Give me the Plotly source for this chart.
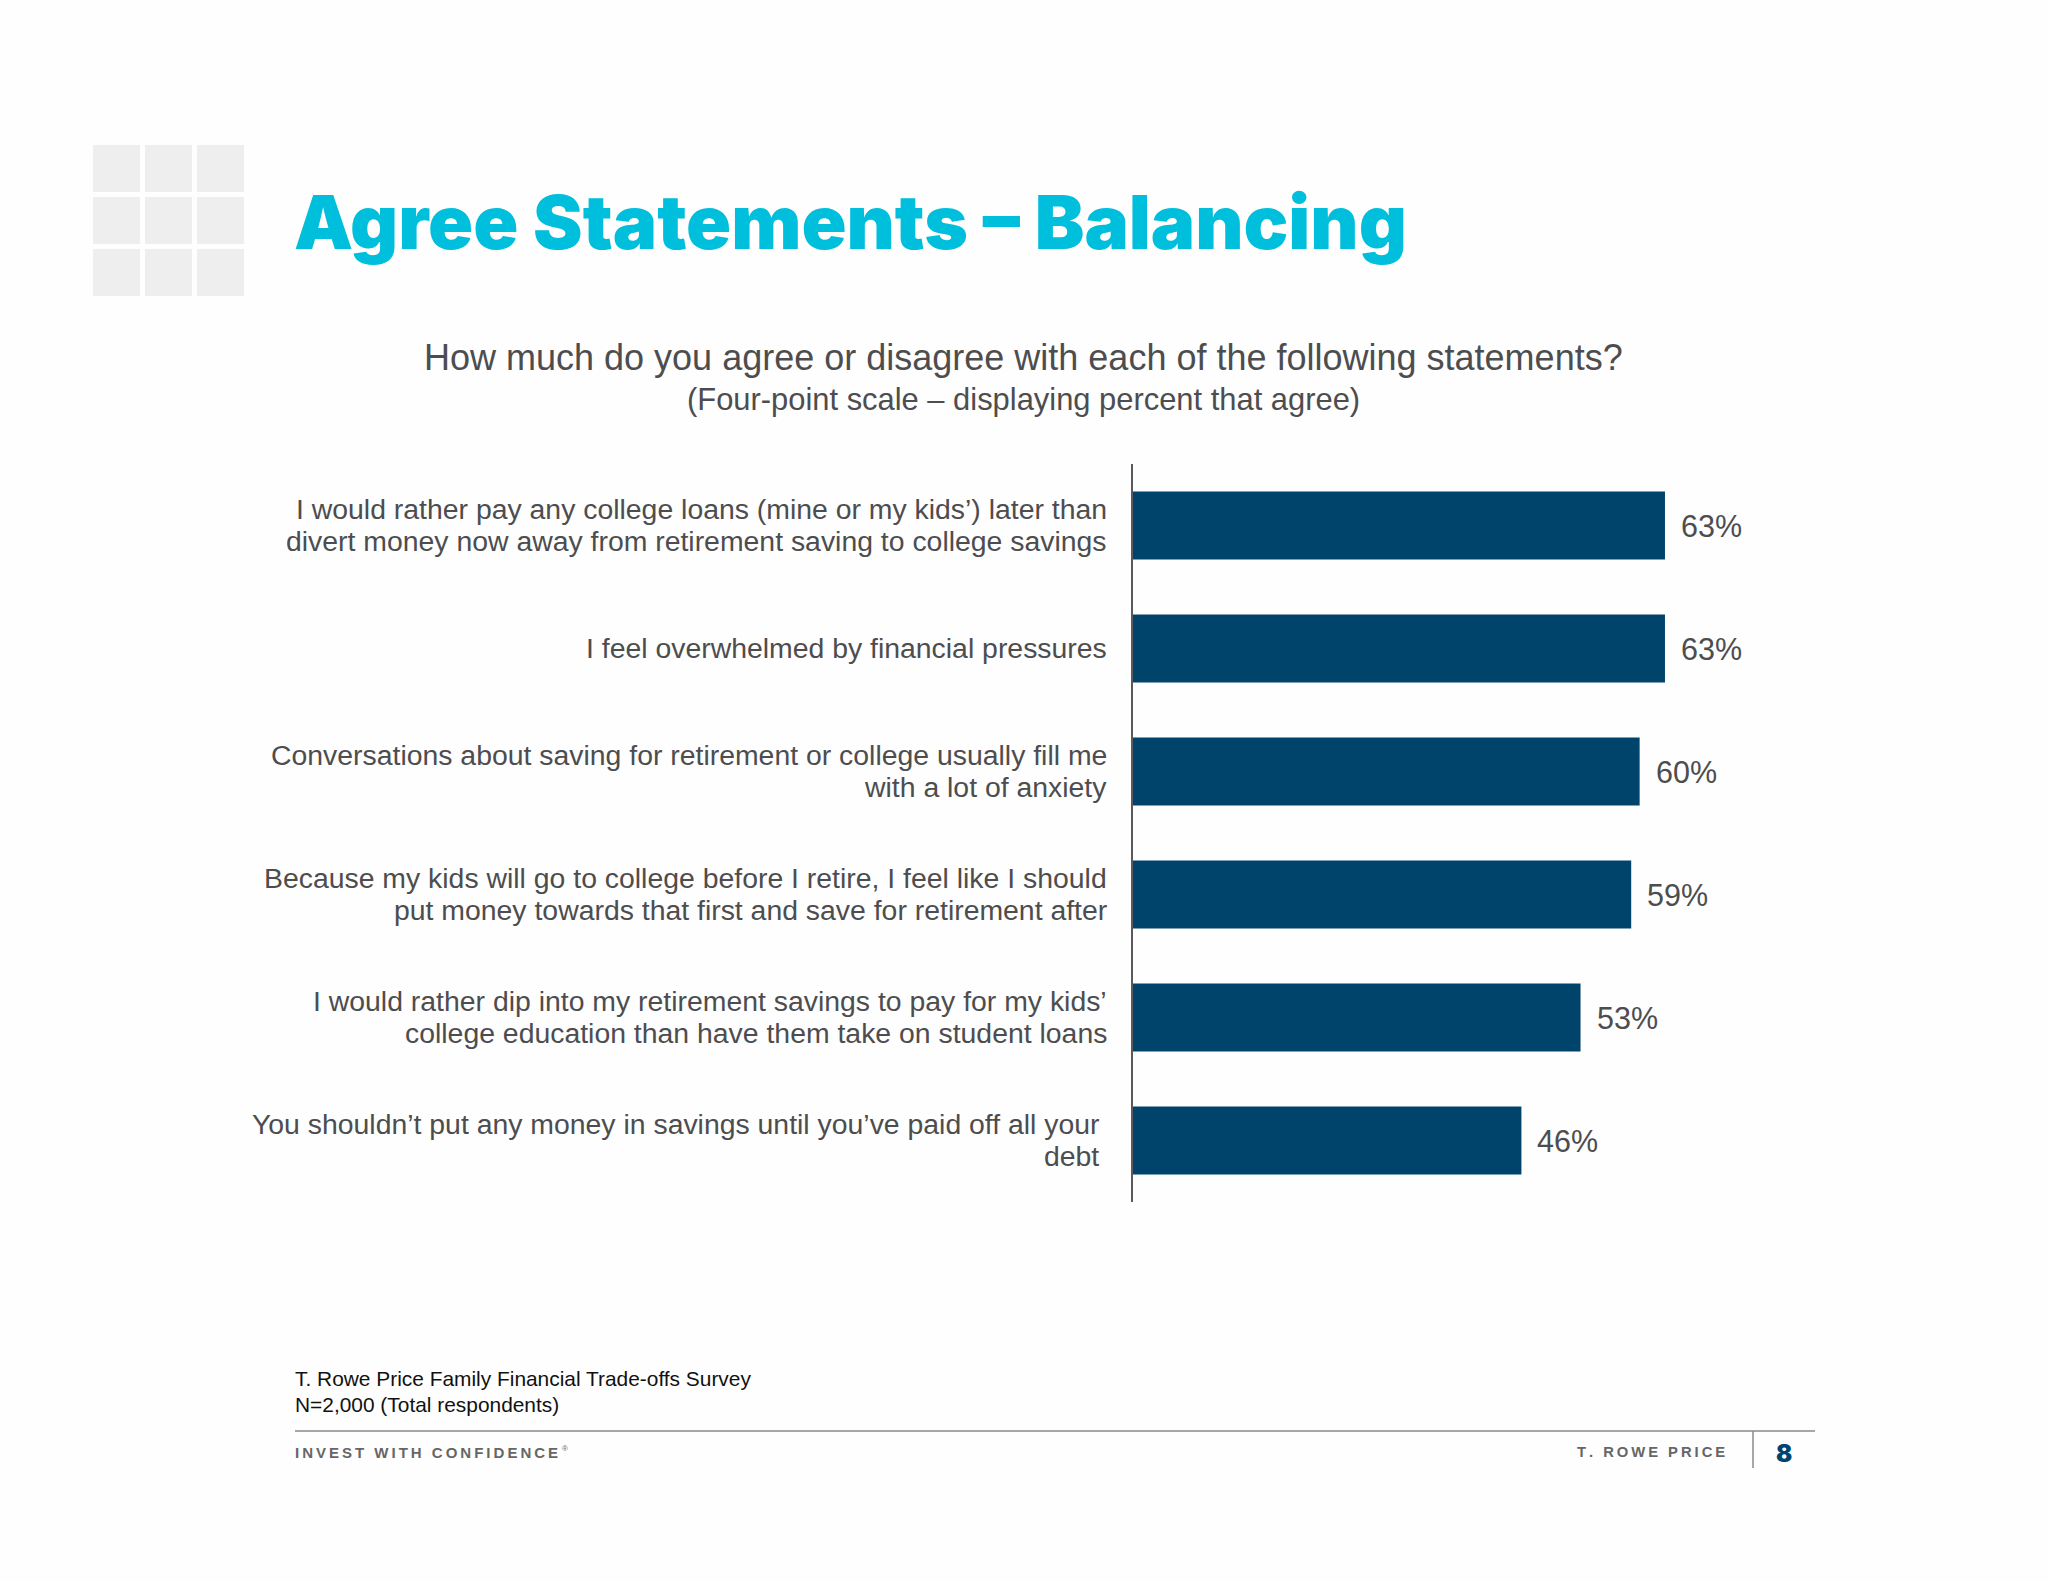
import plotly.graph_objects as go

W, H = 2048, 1582

statements = [
    "I would rather pay any college loans (mine or my kids’) later than<br>divert money now away from retirement saving to college savings",
    "I feel overwhelmed by financial pressures",
    "Conversations about saving for retirement or college usually fill me<br>with a lot of anxiety",
    "Because my kids will go to college before I retire, I feel like I should<br>put money towards that first and save for retirement after",
    "I would rather dip into my retirement savings to pay for my kids’<br>college education than have them take on student loans",
    "You shouldn’t put any money in savings until you’ve paid off all your\u00a0<br>debt\u00a0",
]
agree_percent = [63, 63, 60, 59, 53, 46]

FONT = "Liberation Sans"
GREY = "#4d4d4f"
NAVY = "#00446c"
LABEL_PITCH = 32.6


def px(x):
    return x / W


def py(y):
    return 1 - y / H


fig = go.Figure(
    go.Bar(
        x=agree_percent,
        y=statements,
        orientation="h",
        marker=dict(color=NAVY, line=dict(width=0)),
        width=0.553,
        hoverinfo="skip",
    )
)

annotations = []
for name, val in zip(statements, agree_percent):
    annotations.append(dict(x=val, y=name, xref="x", yref="y", text=f"{val}%", showarrow=False,
                            xanchor="left", yanchor="middle", xshift=14, yshift=0,
                            font=dict(family=FONT, size=30.5, color=GREY)))
    lines = name.split("<br>")
    for i, line in enumerate(lines):
        offset = ((len(lines) - 1) / 2 - i) * LABEL_PITCH + 0.5
        annotations.append(dict(x=0, y=name, xref="x", yref="y", text=line, showarrow=False,
                                xanchor="right", yanchor="middle", xshift=-24, yshift=offset,
                                font=dict(family=FONT, size=28.4, color=GREY)))


def note(text, x, y, size, color=GREY, anchor="left", family=FONT, **font):
    annotations.append(dict(x=px(x), y=py(y), xref="paper", yref="paper", text=text, showarrow=False,
                            xanchor=anchor, yanchor="middle", align=anchor,
                            font=dict(family=family, size=size, color=color, **font)))


note("Agree Statements – Balancing", 292, 222, 74.4, color="#00bfdc", family="Inter Black, Inter", weight=900)
note("How much do you agree or disagree with each of the following statements?", 1023.5, 357, 36, anchor="center")
note("(Four-point scale – displaying percent that agree)", 1023.5, 399, 30.9, anchor="center")
note("T. Rowe Price Family Financial Trade-offs Survey", 293, 1378, 20.9, color="#111111")
note("N=2,000 (Total respondents)", 293, 1404, 20.9, color="#111111")
note("<b>" + "\u2009".join("INVEST WITH CONFIDENCE") + "</b>", 293, 1452, 15, color="#666666")
note("®", 560, 1448, 8, color="#666666")
note("<b>" + "\u2009".join("T. ROWE PRICE") + "</b>", 1727, 1452, 14.8, color="#666666", anchor="right")
note("8", 1784, 1453, 24, color="#004571", anchor="center", family="Inter Black, Inter", weight=900)

shapes = []
for x0, x1 in [(93, 140), (145, 192), (197, 244)]:
    for y0, y1 in [(145, 192), (197, 244), (249, 296)]:
        shapes.append(dict(type="rect", xref="paper", yref="paper", x0=px(x0), x1=px(x1), y0=py(y0), y1=py(y1),
                           fillcolor="#eeeeee", line=dict(width=0), layer="below"))
shapes.append(dict(type="line", xref="paper", yref="paper", x0=px(295), x1=px(1815), y0=py(1431), y1=py(1431),
                   line=dict(color="#8a8a8c", width=1.5)))
shapes.append(dict(type="line", xref="paper", yref="paper", x0=px(1753), x1=px(1753), y0=py(1431), y1=py(1468),
                   line=dict(color="#8a8a8c", width=1.5)))

fig.update_layout(
    width=W,
    height=H,
    margin=dict(l=0, r=0, t=0, b=0),
    paper_bgcolor="#fefefe",
    plot_bgcolor="rgba(0,0,0,0)",
    showlegend=False,
    annotations=annotations,
    shapes=shapes,
    xaxis=dict(domain=[px(1133), px(1900)], range=[0, 767 / 8.444], visible=False, showgrid=False),
    yaxis=dict(
        domain=[py(1202), py(464)],
        type="category",
        categoryorder="array",
        categoryarray=statements,
        autorange="reversed",
        showline=True,
        linecolor="#5a5a5c",
        linewidth=1.5,
        showgrid=False,
        zeroline=False,
        ticks="",
        showticklabels=False,
    ),
)

fig.write_html("out.html", config=dict(displayModeBar=False), post_script="document.body.style.margin='0';")
